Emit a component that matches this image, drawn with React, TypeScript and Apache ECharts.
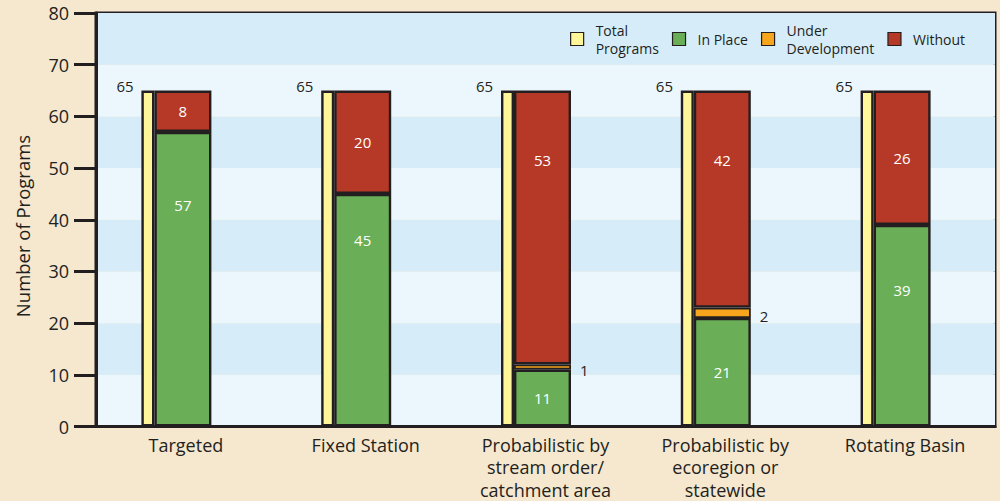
import React, { useEffect, useRef } from "react";
import * as echarts from "echarts";

const categories = [
  "Targeted",
  "Fixed Station",
  "Probabilistic by\nstream order/\ncatchment area",
  "Probabilistic by\necoregion or\nstatewide",
  "Rotating Basin",
];
const totalPrograms = [65, 65, 65, 65, 65];
const inPlace = [57, 45, 11, 21, 39];
const underDevelopment = [0, 0, 1, 2, 0];
const without = [8, 20, 53, 42, 26];
const yTicks = [0, 10, 20, 30, 40, 50, 60, 70, 80];
const yAxisTitle = "Number of Programs";

// label styling: distance (px) of the label centre below the bar top; null = centred
const inPlaceLabelDrop: (number | null)[] = [73, 46, null, null, 65];
const withoutLabelDrop: (number | null)[] = [null, null, 69, 69, null];

const INK = "#231f20";
const FONT = "'Open Sans', sans-serif";

export default function App() {
  const ref = useRef<HTMLDivElement>(null);

  useEffect(() => {
    if (!ref.current) return;
    const chart = echarts.init(ref.current, undefined, { renderer: "svg" });

    const seg = (vals: number[], drops: (number | null)[]) =>
      vals.map((v, i) => {
        const item: any = { value: v === 0 ? "-" : v };
        if (drops[i] != null) {
          item.label = {
            position: ["50%", drops[i]],
            align: "center",
            verticalAlign: "middle",
          };
        }
        return item;
      });

    const border = { borderColor: INK, borderWidth: 2.4 };
    const whiteLabel = {
      show: true,
      position: "inside",
      color: "#ffffff",
      fontSize: 15,
      fontFamily: FONT,
    };

    chart.setOption({
      animation: false,
      backgroundColor: "#f6e7cf",
      textStyle: { fontFamily: FONT, color: INK },
      grid: {
        left: 96,
        right: 5,
        top: 13,
        bottom: 74,
        show: true,
        borderColor: INK,
        borderWidth: 3,
        backgroundColor: "transparent",
      },
      graphic: [
        {
          type: "text",
          x: 22,
          y: 226,
          rotation: Math.PI / 2,
          style: {
            text: yAxisTitle,
            fontFamily: FONT,
            fontSize: 18.5,
            fill: INK,
            align: "center",
            verticalAlign: "middle",
          },
        },
      ],
      legend: {
        data: ["Total\nPrograms", "In Place", "Under\nDevelopment", "Without"],
        right: 30,
        top: 16,
        icon: "rect",
        itemWidth: 13,
        itemHeight: 13,
        itemGap: 13,
        itemStyle: { borderColor: INK, borderWidth: 1.2 },
        textStyle: {
          fontFamily: FONT,
          fontSize: 14,
          color: INK,
          lineHeight: 18,
          padding: [0, 0, 0, 7],
        },
      },
      xAxis: {
        type: "category",
        data: categories,
        axisLine: { lineStyle: { color: INK, width: 3 } },
        axisTick: {
          inside: true,
          length: 10,
          lineStyle: { color: INK, width: 2.5 },
        },
        axisLabel: {
          fontFamily: FONT,
          fontSize: 18,
          lineHeight: 22.5,
          color: INK,
          margin: 7,
          interval: 0,
        },
      },
      yAxis: {
        type: "value",
        min: yTicks[0],
        max: yTicks[yTicks.length - 1],
        interval: 10,
        axisLine: { show: true, lineStyle: { color: INK, width: 3 } },
        axisTick: { show: true, length: 22, lineStyle: { color: INK, width: 3 } },
        axisLabel: { fontFamily: FONT, fontSize: 18, color: INK, margin: 27 },
        splitLine: { show: false },
        splitArea: {
          show: true,
          areaStyle: { color: ["#ecf7fd", "#d6edf9"] },
        },
      },
      series: [
        {
          name: "Total\nPrograms",
          type: "bar",
          stack: "total",
          barWidth: 13,
          barGap: 0,
          data: totalPrograms,
          itemStyle: { color: "#fff699", ...border },
          label: {
            show: true,
            position: [-25, -12],
            align: "left",
            verticalAlign: "top",
            color: INK,
            fontSize: 15,
            fontFamily: FONT,
          },
        },
        {
          name: "In Place",
          type: "bar",
          stack: "parts",
          barWidth: 57,
          barGap: 0,
          data: seg(inPlace, inPlaceLabelDrop),
          itemStyle: { color: "#6aaf57", ...border },
          label: whiteLabel,
        },
        {
          name: "Under\nDevelopment",
          type: "bar",
          stack: "parts",
          barWidth: 57,
          barGap: 0,
          z: 3,
          data: underDevelopment.map((v) => (v === 0 ? "-" : v)),
          itemStyle: { color: "#f6a51d", borderColor: INK, borderWidth: 1.8 },
          label: {
            show: true,
            position: "right",
            distance: 9,
            offset: [0, 3],
            color: INK,
            fontSize: 15,
            fontFamily: FONT,
          },
        },
        {
          name: "Without",
          type: "bar",
          stack: "parts",
          barWidth: 57,
          barGap: 0,
          data: seg(without, withoutLabelDrop),
          itemStyle: { color: "#b63827", ...border },
          label: whiteLabel,
        },
        {
          name: "spacer",
          type: "bar",
          stack: "spacer",
          barWidth: 19,
          barGap: 0,
          silent: true,
          data: categories.map(() => "-"),
          itemStyle: { color: "transparent" },
        },
      ],
    });

    return () => chart.dispose();
  }, []);

  return (
    <div
      ref={ref}
      style={{ position: "fixed", left: 0, top: 0, width: 1000, height: 501 }}
    />
  );
}
